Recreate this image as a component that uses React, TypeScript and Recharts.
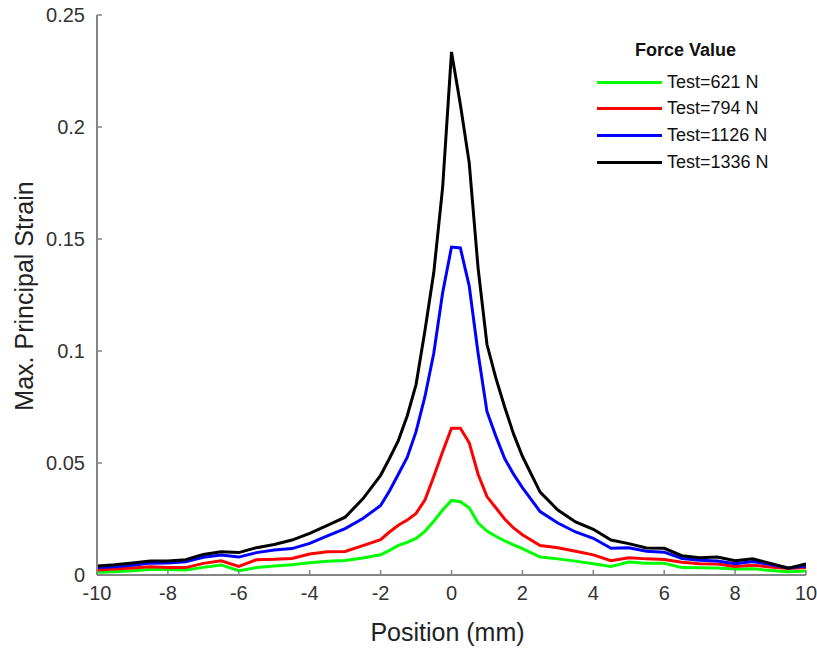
import { LineChart, Line, XAxis, YAxis, Legend, Label } from "recharts";

// positions along the profile, mm
const positions = [
  -10, -9.5, -9, -8.5, -8, -7.5, -7, -6.5, -6, -5.5, -5, -4.5, -4, -3.5, -3, -2.5,
  -2, -1.75, -1.5, -1.25, -1, -0.75, -0.5, -0.25, 0, 0.25, 0.5, 0.75, 1, 1.25, 1.5,
  1.75, 2, 2.5, 3, 3.5, 4, 4.5, 5, 5.5, 6, 6.5, 7, 7.5, 8, 8.5, 9, 9.5, 10,
];

const test621 = [
  0.0012, 0.0014, 0.0019, 0.0025, 0.0024, 0.0022, 0.0034, 0.0045, 0.0019, 0.0033, 0.004,
  0.0046, 0.0055, 0.0061, 0.0065, 0.0076, 0.009, 0.011, 0.0132, 0.0146, 0.0163, 0.0195,
  0.024, 0.029, 0.0333, 0.0327, 0.03, 0.0232, 0.0196, 0.0173, 0.0152, 0.0135, 0.0118,
  0.008, 0.0072, 0.0062, 0.005, 0.0038, 0.0058, 0.0052, 0.0052, 0.0033, 0.0032, 0.0031,
  0.0027, 0.0028, 0.002, 0.0015, 0.0018,
];

const test794 = [
  0.0022, 0.0027, 0.0031, 0.0037, 0.0034, 0.0033, 0.0052, 0.0063, 0.0038, 0.0068, 0.007,
  0.0074, 0.0094, 0.0104, 0.0105, 0.0131, 0.0158, 0.0192, 0.0222, 0.0245, 0.0275, 0.0335,
  0.044, 0.055, 0.0655, 0.0655, 0.059, 0.045, 0.035, 0.03, 0.025, 0.021, 0.018, 0.0132,
  0.0122, 0.0106, 0.009, 0.0064, 0.0077, 0.0072, 0.0069, 0.0057, 0.005, 0.0049, 0.0038,
  0.0043, 0.0036, 0.0029, 0.0033,
];

const test1126 = [
  0.0033, 0.0037, 0.0044, 0.0053, 0.0054, 0.0059, 0.0079, 0.0089, 0.008, 0.01, 0.0112,
  0.0118, 0.0141, 0.0175, 0.0207, 0.0252, 0.031, 0.0375, 0.045, 0.0525, 0.064, 0.0796,
  0.099, 0.126, 0.1464, 0.146, 0.129, 0.099, 0.073, 0.062, 0.052, 0.045, 0.039, 0.0283,
  0.0232, 0.0192, 0.0164, 0.0119, 0.0122, 0.0106, 0.0102, 0.0074, 0.0066, 0.0062, 0.005,
  0.006, 0.0047, 0.0031, 0.004,
];

const test1336 = [
  0.004, 0.0046, 0.0054, 0.0063, 0.0062, 0.0068, 0.0092, 0.0104, 0.01, 0.0122, 0.0136,
  0.0156, 0.0186, 0.0221, 0.0258, 0.034, 0.0445, 0.052, 0.06, 0.071, 0.085, 0.109, 0.135,
  0.173, 0.2335, 0.21, 0.184, 0.137, 0.103, 0.088, 0.075, 0.063, 0.053, 0.037, 0.029,
  0.0237, 0.0204, 0.0156, 0.014, 0.0121, 0.0119, 0.0086, 0.0077, 0.008, 0.0064, 0.0072,
  0.0052, 0.003, 0.0049,
];

const seriesKeys = ["t621", "t794", "t1126", "t1336"];
const seriesNames = ["Test=621 N", "Test=794 N", "Test=1126 N", "Test=1336 N"];
const seriesColors = ["#00ff00", "#ff0000", "#0000ff", "#000000"];

const xTicks = [-10, -8, -6, -4, -2, 0, 2, 4, 6, 8, 10];
const yTicks = [0, 0.05, 0.1, 0.15, 0.2, 0.25];

const data = positions.map((x, i) => ({
  x,
  t621: test621[i],
  t794: test794[i],
  t1126: test1126[i],
  t1336: test1336[i],
}));

const FONT = '"Liberation Sans", Arial, Helvetica, sans-serif';
const FRAME = "#858585";
const TICK_TEXT = "#333";

function BottomTick(props: any) {
  const { x, y, payload } = props;
  return (
    <g>
      <line x1={x} y1={y} x2={x} y2={y - 5} stroke={FRAME} strokeWidth={1.5} />
      <text x={x} y={y + 25} textAnchor="middle" fontSize={20} fill={TICK_TEXT} fontFamily={FONT}>
        {payload.value}
      </text>
    </g>
  );
}

function TopTick(props: any) {
  const { x, y } = props;
  return <line x1={x} y1={y} x2={x} y2={y + 5} stroke={FRAME} strokeWidth={1.5} />;
}

function LeftTick(props: any) {
  const { x, y, payload } = props;
  return (
    <g>
      <line x1={x} y1={y} x2={x + 5} y2={y} stroke={FRAME} strokeWidth={1.5} />
      <text x={x - 12} y={y} dy="0.35em" textAnchor="end" fontSize={20} fill={TICK_TEXT} fontFamily={FONT}>
        {payload.value}
      </text>
    </g>
  );
}

function RightTick(props: any) {
  const { x, y } = props;
  return <line x1={x} y1={y} x2={x - 5} y2={y} stroke={FRAME} strokeWidth={1.5} />;
}

// legend kept in series order (Recharts would sort the payload by name)
function ForceLegend() {
  return (
    <div style={{ fontFamily: FONT, color: "#111" }}>
      <div style={{ width: 177, textAlign: "center", fontWeight: "bold", fontSize: 18, lineHeight: "26px", height: 32 }}>
        Force Value
      </div>
      {seriesNames.map((name, i) => (
        <div key={name} style={{ display: "flex", alignItems: "center", height: 26.6 }}>
          <div style={{ width: 65, height: 3, background: seriesColors[i], marginRight: 5 }} />
          <span style={{ fontSize: 18 }}>{name}</span>
        </div>
      ))}
    </div>
  );
}

export default function App() {
  return (
    <div style={{ position: "absolute", left: 0, top: 0, background: "#fff" }}>
      <LineChart width={817} height={649} data={data} margin={{ top: 15, right: 11, bottom: 34, left: 37 }}>
        <XAxis
          dataKey="x"
          type="number"
          domain={[-10, 10]}
          ticks={xTicks}
          allowDataOverflow
          height={40}
          tickSize={0}
          tickMargin={0}
          tickLine={false}
          axisLine={{ stroke: FRAME, strokeWidth: 2 }}
          tick={<BottomTick />}
          interval={0}
        >
          <Label
            content={(p: any) => {
              const vb = p.viewBox;
              return (
                <text x={vb.x + vb.width / 2 - 4} y={vb.y + 66} textAnchor="middle" fontSize={25} fill="#222" fontFamily={FONT}>
                  Position (mm)
                </text>
              );
            }}
          />
        </XAxis>
        <XAxis
          xAxisId="top"
          orientation="top"
          dataKey="x"
          type="number"
          domain={[-10, 10]}
          ticks={xTicks}
          allowDataOverflow
          height={0}
          tickSize={0}
          tickMargin={0}
          tickLine={false}
          axisLine={{ stroke: FRAME, strokeWidth: 2 }}
          tick={<TopTick />}
          interval={0}
        />
        <YAxis
          type="number"
          domain={[0, 0.25]}
          ticks={yTicks}
          allowDataOverflow
          width={60}
          tickSize={0}
          tickMargin={0}
          tickLine={false}
          axisLine={{ stroke: FRAME, strokeWidth: 2 }}
          tick={<LeftTick />}
          interval={0}
        >
          <Label
            content={(p: any) => {
              const vb = p.viewBox;
              const cx = vb.x + vb.width - 64;
              const cy = vb.y + vb.height / 2 + 1;
              return (
                <text
                  x={cx}
                  y={cy}
                  transform={`rotate(-90, ${cx}, ${cy})`}
                  textAnchor="middle"
                  fontSize={25}
                  fill="#222"
                  fontFamily={FONT}
                >
                  Max. Principal Strain
                </text>
              );
            }}
          />
        </YAxis>
        <YAxis
          yAxisId="right"
          orientation="right"
          type="number"
          domain={[0, 0.25]}
          ticks={yTicks}
          allowDataOverflow
          width={0}
          tickSize={0}
          tickMargin={0}
          tickLine={false}
          axisLine={{ stroke: FRAME, strokeWidth: 2 }}
          tick={<RightTick />}
          interval={0}
        />
        <Legend
          layout="horizontal"
          verticalAlign="middle"
          align="center"
          content={<ForceLegend />}
          wrapperStyle={{ left: 597, top: 37, width: 200, height: 150 }}
        />
        {seriesKeys.map((key, i) => (
          <Line
            key={key}
            type="linear"
            dataKey={key}
            name={seriesNames[i]}
            stroke={seriesColors[i]}
            strokeWidth={3}
            dot={false}
            isAnimationActive={false}
          />
        ))}
      </LineChart>
    </div>
  );
}
